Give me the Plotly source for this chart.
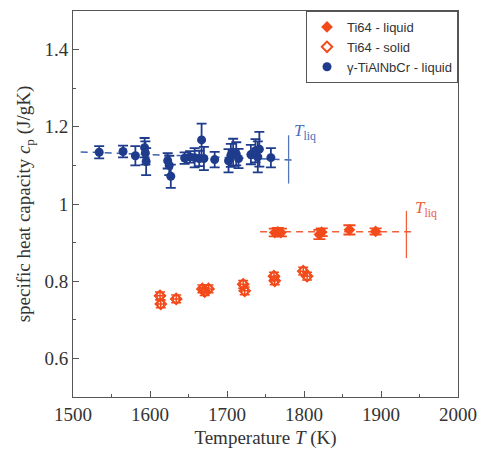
import plotly.graph_objects as go

# ---- data ----
alloy_T = [1534, 1565, 1581, 1593, 1594, 1595, 1623, 1625, 1627, 1645, 1652, 1658, 1664,
           1667, 1670, 1684, 1702, 1705, 1708, 1712, 1715, 1731, 1737, 1740, 1742, 1757]
alloy_cp = [1.134, 1.136, 1.125, 1.146, 1.132, 1.110, 1.112, 1.100, 1.072, 1.119, 1.122, 1.120, 1.118,
            1.166, 1.118, 1.115, 1.112, 1.126, 1.134, 1.130, 1.118, 1.128, 1.138, 1.122, 1.142, 1.120]
alloy_err = [0.016, 0.015, 0.025, 0.025, 0.03, 0.035, 0.02, 0.025, 0.03, 0.015, 0.015, 0.025, 0.02,
             0.042, 0.03, 0.02, 0.03, 0.03, 0.035, 0.03, 0.025, 0.025, 0.03, 0.04, 0.045, 0.025]

ti_liq_T = [1762, 1766, 1770, 1820, 1823, 1859, 1893]
ti_liq_cp = [0.926, 0.928, 0.926, 0.921, 0.927, 0.933, 0.929]
ti_liq_err = [0.010, 0.010, 0.010, 0.012, 0.010, 0.012, 0.008]

ti_sol_T = [1613, 1614, 1634, 1668, 1671, 1676, 1721, 1723, 1761, 1762, 1799, 1804]
ti_sol_cp = [0.762, 0.741, 0.754, 0.780, 0.773, 0.780, 0.792, 0.775, 0.813, 0.801, 0.826, 0.813]
ti_sol_err = [0.010] * 12
ti_sol_xerr = [4] * 12

alloy_fit_T = [1510, 1784]
alloy_fit_cp = [1.135, 1.114]
ti_fit_T = [1743, 1944]
ti_fit_cp = [0.928, 0.928]

alloy_tliq = 1780
alloy_tliq_cp = [1.053, 1.178]
ti_tliq = 1933
ti_tliq_cp = [0.860, 0.982]

BLUE = "#1f3c8c"
RED = "#f24a1a"
FONT = "Liberation Serif"

fig = go.Figure()

# fit lines
fig.add_trace(go.Scatter(x=alloy_fit_T, y=alloy_fit_cp, mode="lines",
                         line=dict(color="#3c62b0", width=1.5, dash="7px,5px"),
                         showlegend=False, hoverinfo="skip"))
fig.add_trace(go.Scatter(x=ti_fit_T, y=ti_fit_cp, mode="lines",
                         line=dict(color="#f0603a", width=1.5, dash="7px,5px"),
                         showlegend=False, hoverinfo="skip"))
# T_liq lines
fig.add_trace(go.Scatter(x=[alloy_tliq, alloy_tliq], y=alloy_tliq_cp, mode="lines",
                         line=dict(color="#5577bb", width=1.3), showlegend=False, hoverinfo="skip"))
fig.add_trace(go.Scatter(x=[ti_tliq, ti_tliq], y=ti_tliq_cp, mode="lines",
                         line=dict(color="#f0603a", width=1.3), showlegend=False, hoverinfo="skip"))

# data
fig.add_trace(go.Scatter(x=ti_liq_T, y=ti_liq_cp, mode="markers", name="Ti64 - liquid",
                         marker=dict(symbol="diamond", size=9, color=RED),
                         error_y=dict(type="data", array=ti_liq_err, color=RED, thickness=1.8, width=6)))
fig.add_trace(go.Scatter(x=ti_sol_T, y=ti_sol_cp, mode="markers", name="Ti64 - solid",
                         marker=dict(symbol="diamond-open", size=8, color=RED, line=dict(width=2)),
                         error_y=dict(type="data", array=ti_sol_err, color=RED, thickness=1.5, width=5),
                         error_x=dict(type="data", array=ti_sol_xerr, color=RED, thickness=1.5, width=3)))
fig.add_trace(go.Scatter(x=alloy_T, y=alloy_cp, mode="markers", name="γ-TiAlNbCr - liquid",
                         marker=dict(symbol="circle", size=9, color=BLUE),
                         error_y=dict(type="data", array=alloy_err, color=BLUE, thickness=1.8, width=5)))

fig.add_annotation(x=1784, y=1.187, xref="x", yref="y", text="<i>T</i><sub>liq</sub>",
                   showarrow=False, xanchor="left", yanchor="middle",
                   font=dict(family=FONT, size=17, color="#4a6fb8"))
fig.add_annotation(x=1942, y=0.988, xref="x", yref="y", text="<i>T</i><sub>liq</sub>",
                   showarrow=False, xanchor="left", yanchor="middle",
                   font=dict(family=FONT, size=17, color="#f0603a"))

axis_common = dict(showline=True, linecolor="#555", linewidth=1, mirror=True,
                   ticks="inside", ticklen=6, tickcolor="#555", showgrid=False, zeroline=False,
                   tickfont=dict(family=FONT, size=19, color="#333"))

fig.update_xaxes(range=[1500, 2000], dtick=100, tick0=1500,
                 minor=dict(ticks="inside", ticklen=3, dtick=50, tickcolor="#555"),
                 title=dict(text="Temperature <i>T</i> (K)", font=dict(family=FONT, size=19, color="#333"),
                            standoff=6),
                 **axis_common)
fig.update_yaxes(range=[0.5, 1.5], dtick=0.2, tick0=0.6,
                 minor=dict(ticks="inside", ticklen=3, dtick=0.1, tickcolor="#555"),
                 title=dict(text="specific heat capacity <i>c</i><sub>p</sub> (J/gK)",
                            font=dict(family=FONT, size=19, color="#333"), standoff=8),
                 **axis_common)

fig.update_layout(
    width=487, height=454,
    margin=dict(l=73, r=21, t=10, b=51),
    plot_bgcolor="white", paper_bgcolor="white",
    legend=dict(x=1, y=1, xanchor="right", yanchor="top",
                bordercolor="#555", borderwidth=1, bgcolor="white",
                font=dict(family="Liberation Sans", size=13, color="#333"),
                tracegroupgap=0, itemwidth=30),
    showlegend=True,
)

fig.write_html("out.html")
